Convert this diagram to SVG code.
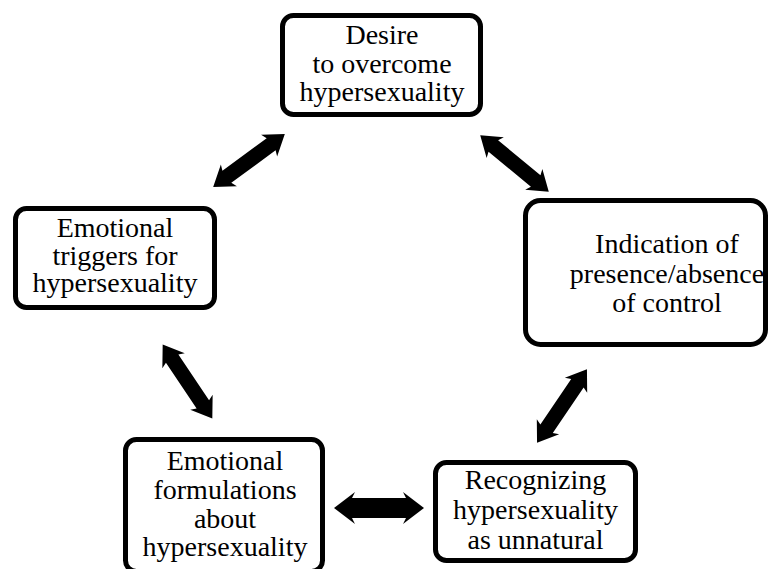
<svg xmlns="http://www.w3.org/2000/svg" width="768" height="569" viewBox="0 0 768 569">
  <style>
    .box { fill: #ffffff; stroke: #000000; stroke-width: 5; }
    .arrow { fill: #000000; stroke: none; }
  </style>
  <defs>
    <!-- double-headed block arrow, centred on the origin, pointing along x -->
    <path id="dblArrow" d="M44.5,0 L25,-13.5 L27.5,-7.5 L-27.5,-7.5 L-25,-13.5 L-44.5,0 L-25,13.5 L-27.5,7.5 L27.5,7.5 L25,13.5 Z"/>
    <path id="dblArrowWide" d="M45,0 L24,-16 L27,-10 L-27,-10 L-24,-16 L-45,0 L-24,16 L-27,10 L27,10 L24,16 Z"/>
  </defs>
  <rect width="768" height="569" fill="#ffffff"/>

  <g id="connectors" class="arrow">
    <use href="#dblArrow" transform="translate(249,160.5) rotate(-36.4)"/>
    <use href="#dblArrow" transform="translate(514.5,163.5) rotate(39.6)"/>
    <use href="#dblArrow" transform="translate(187.5,381.5) rotate(56.1)"/>
    <use href="#dblArrowWide" transform="translate(379,508)"/>
    <use href="#dblArrow" transform="translate(562,406) rotate(-55.9)"/>
  </g>

  <g id="nodes" font-family="Liberation Serif" font-size="28" fill="#000000" text-anchor="middle">
    <g id="desire">
      <rect class="box" x="282.5" y="15.5" width="198" height="99" rx="11"/>
      <text x="382" y="44">Desire</text>
      <text x="382" y="73">to overcome</text>
      <text x="382" y="101">hypersexuality</text>
    </g>

    <g id="triggers">
      <rect class="box" x="15.5" y="208.5" width="199" height="99" rx="11"/>
      <text x="115" y="237">Emotional</text>
      <text x="115" y="265">triggers for</text>
      <text x="115" y="292">hypersexuality</text>
    </g>

    <g id="control">
      <rect class="box" x="525.5" y="200.5" width="240" height="144" rx="15"/>
      <text x="667" y="253">Indication of</text>
      <text x="667" y="283">presence/absence</text>
      <text x="667" y="312">of control</text>
    </g>

    <g id="formulations">
      <rect class="box" x="125.5" y="439.5" width="197" height="132" rx="11"/>
      <text x="225" y="470">Emotional</text>
      <text x="225" y="499">formulations</text>
      <text x="225" y="528">about</text>
      <text x="225" y="556">hypersexuality</text>
    </g>

    <g id="unnatural">
      <rect class="box" x="435.5" y="462.5" width="200" height="98" rx="11"/>
      <text x="535.5" y="489">Recognizing</text>
      <text x="535.5" y="519">hypersexuality</text>
      <text x="535.5" y="549">as unnatural</text>
    </g>
  </g>
</svg>
